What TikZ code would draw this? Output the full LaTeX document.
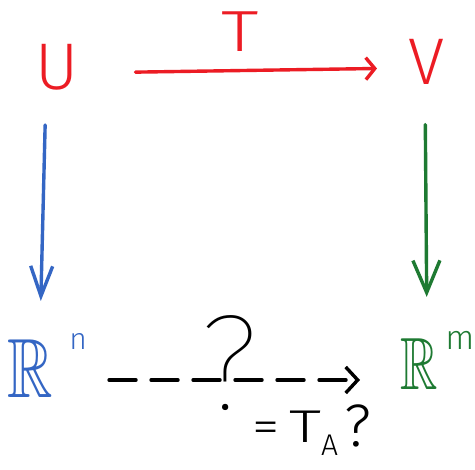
\documentclass[tikz,border=0pt]{standalone}
\usepackage{amssymb}
\usepackage{fontspec}
\IfFontExistsTF{Fira Sans Light}
  {\newfontfamily\hand{Fira Sans Light}}
  {\newfontfamily\hand{Fira Sans}}
\IfFontExistsTF{Fira Sans Thin}
  {\newfontfamily\handthin{Fira Sans Thin}}
  {\newfontfamily\handthin{Fira Sans}}
\usetikzlibrary{arrows.meta}
\definecolor{inkred}{RGB}{236,28,36}
\definecolor{inkblue}{RGB}{52,102,196}
\definecolor{inkgreen}{RGB}{30,122,50}
\newcommand{\fsz}[1]{\fontsize{#1}{#1}\selectfont}
\begin{document}
\begin{tikzpicture}[x=1pt,y=-1pt,
  lbl/.style={inner sep=0pt, outer sep=0pt},
  ink/.style={line width=3.4pt, line cap=round, line join=round},
  barb/.style 2 args={-{Straight Barb[length=#1,width=#2,line width=3.4pt]}}]
\useasboundingbox[fill=white] (0,0) rectangle (475,470);

% vector spaces
\node[lbl, text=inkred, font=\hand\fsz{66}] (U) at (57,67) {U};
\node[lbl, text=inkred, font=\hand\fsz{66}] (V) at (427,62) {V};
\node[lbl, text=inkblue, anchor=base west] (Rn) at (8,398)
  {\scalebox{0.75}[1]{\fsz{84}$\mathbb{R}$}\hspace{16pt}\raisebox{48pt}{\hand\fsz{30}n}};
\node[lbl, text=inkgreen, anchor=base west] (Rm) at (400,390)
  {\scalebox{0.7}[1]{\fsz{74}$\mathbb{R}$}\hspace{8pt}\raisebox{40pt}{\hand\fsz{34}m}};

% the map T
\node[lbl, text=inkred, font=\hand\fsz{58}] (T) at (240,32) {\scalebox{1.3}[1]{T}};
\draw[ink, inkred, barb={9pt}{22pt}, shorten <=57pt, shorten >=32pt]
  ([yshift=-6pt]U.east) -- ([yshift=-6pt]V.west);

% coordinate maps
\draw[ink, inkblue, barb={30pt}{22pt}, shorten <=35pt, shorten >=33pt]
  ([xshift=-11pt]U.south) -- ([xshift=-17pt]U.south |- Rn.north);
\draw[ink, inkgreen, barb={32pt}{27pt}, shorten <=40pt, shorten >=35pt]
  ([xshift=-2pt]V.south) -- ([xshift=0pt]V.south |- Rm.north);

% the unknown map
\draw[ink, black, dash pattern=on 27pt off 15pt,
  -{Straight Barb[length=12pt,width=26pt,line width=3.4pt]},
  shorten <=22pt, shorten >=40pt]
  ([yshift=18pt]Rn.base east) -- ([yshift=10pt]Rm.base west);
\node[lbl, font=\handthin\fsz{136}, anchor=base] (Q) at (229,410) {?};
\node[lbl, font=\hand\fsz{46}, anchor=base west] (TA) at (252,443)
  {\scalebox{1.2}[1]{=}\hspace{10pt}\scalebox{1.4}[1]{T}\raisebox{-13pt}{\fsz{30}A}\hspace{6pt}\raisebox{-4pt}{\fsz{60}?}};
\end{tikzpicture}
\end{document}
